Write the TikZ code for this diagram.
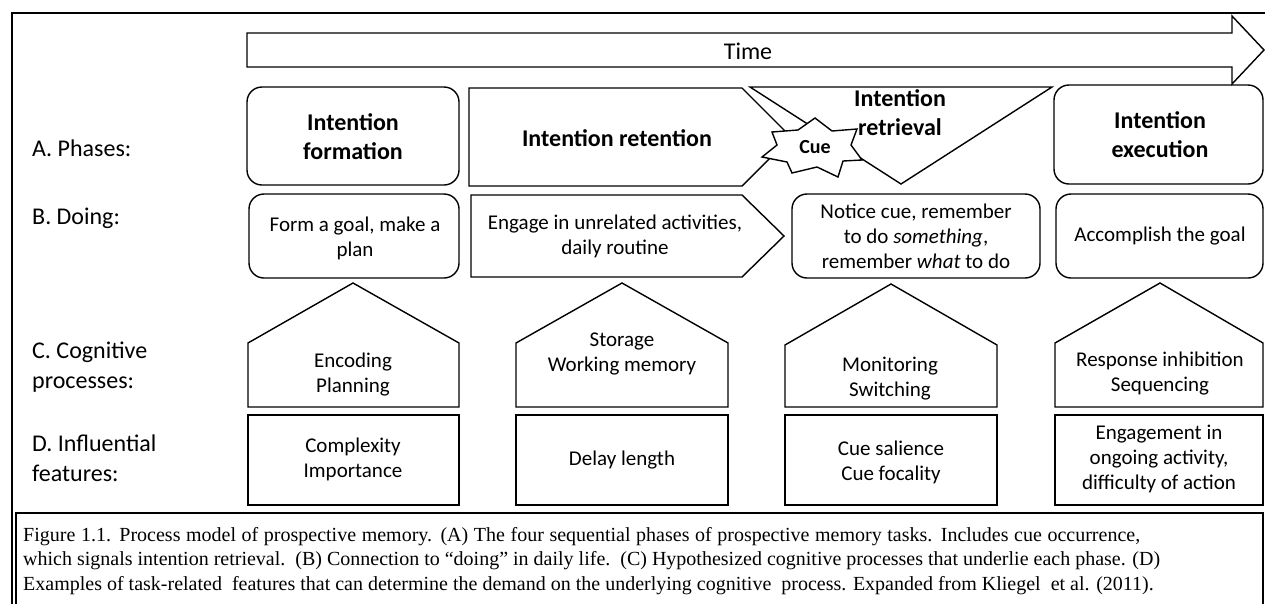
\documentclass[tikz,border=0pt]{standalone}
\usepackage{fontspec}
\setmainfont{Carlito}
\newfontfamily\capfont{Liberation Serif}
\begin{document}
\begin{tikzpicture}[x=1pt,y=-1pt,line join=miter,
  shp/.style={draw=black,line width=1.4pt},
  rbox/.style={shp,rounded corners=15pt},
  outerframe/.style={draw=black,line width=1.8pt},
  head/.style={font=\fontsize{24}{29}\selectfont\bfseries,align=center,inner sep=0pt},
  body/.style={font=\fontsize{21}{25}\selectfont,align=center,inner sep=0pt},
  lbl/.style={font=\fontsize{24}{30}\selectfont,align=left,anchor=west,inner sep=0pt},
  captext/.style={font=\capfont\fontsize{20}{24.5}\selectfont,align=left,anchor=north west,inner sep=0pt}]
\useasboundingbox (0,0) rectangle (1265,603);
% outer frame
\draw[outerframe] (12,615) -- (12,13) -- (1275,13);
% time arrow
\draw[shp] (247,33) -- (1232,33) -- (1232,16) -- (1264,50) -- (1232,84) -- (1232,67) -- (247,67) -- cycle;
\node[font=\fontsize{24}{29}\selectfont,inner sep=0pt] (time) at (748,51) {Time};
% labels
\node[lbl] (la) at (32,148) {A. Phases:};
\node[lbl] (lb) at (32,218) {B. Doing:};
\node[lbl] (lc) at (32,367) {C. Cognitive\\processes:};
\node[lbl] (ld) at (32,458) {D. Influential\\features:};
% row A
\draw[rbox] (247,87) rectangle (459,185);
\draw[shp] (469,88) -- (742,88) -- (791,137) -- (742,186) -- (469,186) -- cycle;
\draw[shp] (750,87) -- (1052,87) -- (901,184) -- cycle;
\draw[rbox] (1054,85) rectangle (1263,184);
\draw[shp,fill=white] (815,118) -- (832,131) -- (857,129) -- (851,145) -- (862,160) -- (843,161) -- (838,177) -- (817,167) -- (792,173) -- (787,162) -- (762,157) -- (777,145) -- (772,132) -- (798,130) -- cycle;
\node[font=\fontsize{20}{24}\selectfont\bfseries,inner sep=0pt] (cue) at (815,147) {Cue};
\node[head] (tf) at (353,137) {Intention\\formation};
\node[head] (tr) at (617,138) {Intention retention};
\node[head] (tv) at (900,113) {Intention\\retrieval};
\node[head] (te) at (1160,135) {Intention\\execution};
% row B
\draw[rbox] (249,194) rectangle (459,278);
\draw[shp] (471,195) -- (742,195) -- (784,236) -- (742,277) -- (471,277) -- cycle;
\draw[rbox] (792,194) rectangle (1040,278);
\draw[rbox] (1056,194) rectangle (1263,278);
\node[body] (tb1) at (355,238) {Form a goal, make a\\plan};
\node[body] (tb2) at (615,236) {Engage in unrelated activities,\\daily routine};
\node[body] (tb3) at (916,236) {Notice cue, remember\\to do \textit{something},\\remember \textit{what} to do};
\node[body] (tb4) at (1160,236) {Accomplish the goal};
% row C
\draw[shp] (248,407) -- (248,343) -- (353,283) -- (459,343) -- (459,407) -- cycle;
\draw[shp] (516,407) -- (516,343) -- (622,283) -- (728,343) -- (728,407) -- cycle;
\draw[shp] (785,407) -- (785,345) -- (891,284) -- (997,345) -- (997,407) -- cycle;
\draw[shp] (1055,407) -- (1055,343) -- (1160,283) -- (1263,343) -- (1263,407) -- cycle;
\node[body] (tc1) at (353,375) {Encoding\\Planning};
\node[body] (tc2) at (622,354) {Storage\\Working memory};
\node[body] (tc3) at (890,379) {Monitoring\\Switching};
\node[body] (tc4) at (1160,374) {Response inhibition\\Sequencing};
% row D
\draw[shp] (248,415) rectangle (459,505);
\draw[shp] (516,415) rectangle (728,505);
\draw[shp] (785,415) rectangle (997,505);
\draw[shp] (1055,415) rectangle (1263,505);
\node[body] (td1) at (353,459) {Complexity\\Importance};
\node[body] (td2) at (622,460) {Delay length};
\node[body] (td3) at (891,462) {Cue salience\\Cue focality};
\node[body] (td4) at (1159,459) {Engagement in\\ongoing activity,\\difficulty of action};
% caption
\draw[line width=1.5pt] (16,615) -- (16,513) -- (1263,513) -- (1263,615);
\node[captext] (caption) at (23,527) {\makebox[1117pt][s]{Figure 1.1. Process model of prospective memory. (A) The four sequential phases of prospective memory tasks. Includes cue occurrence,}\\which signals intention retrieval.\ \ (B) Connection to “doing” in daily life.\ \ (C) Hypothesized cognitive processes that underlie each phase. (D)\\Examples of task-related\ \ features that can determine the demand on the underlying cognitive\ \ process. Expanded from Kliegel\ \ et al. (2011).};
\end{tikzpicture}
\end{document}
